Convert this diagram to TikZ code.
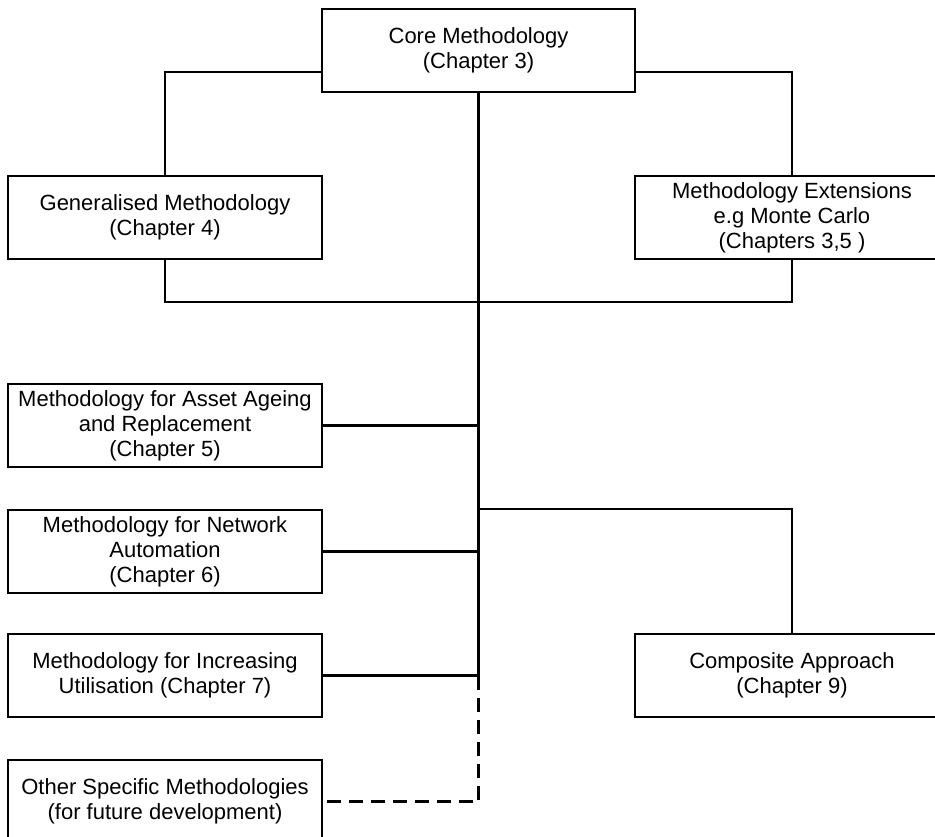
\documentclass[tikz,border=0pt]{standalone}
\usepackage{fontspec}
\setmainfont{Liberation Sans}
\usetikzlibrary{positioning, calc}

\begin{document}
\begin{tikzpicture}[x=1pt, y=-1pt,
    box/.style={draw, rectangle, line width=1.5pt, minimum width=314pt, minimum height=83pt, align=center, inner sep=2pt, font=\fontsize{22}{25}\selectfont},
    link/.style={line width=2.2pt},
    futurelink/.style={link, dash pattern=on 14pt off 8pt}]
    \useasboundingbox (0,0) rectangle (935,837);

    % Methodology boxes
    \node[box, minimum width=313pt] (core) at (478.5,50.5) {Core Methodology\\(Chapter 3)};
    \node[box] (general) at (165,217.5) {Generalised Methodology\\(Chapter 4)};
    \node[box] (extension) at (792,217.5) {Methodology Extensions\\e.g Monte Carlo\\(Chapters 3,5 )};

    \node[box] (ageing) at (165,425.5) {Methodology for Asset Ageing\\and Replacement\\(Chapter 5)};
    \node[box] (automation) at (165,551.5) {Methodology for Network\\Automation\\(Chapter 6)};
    \node[box] (utilisation) at (165,675.5) {Methodology for Increasing\\Utilisation (Chapter 7)};
    \node[box] (other) at (165,801.5) {Other Specific Methodologies\\(for future development)};
    \node[box] (composite) at (792,675.5) {Composite Approach\\(Chapter 9)};

    % Connections
    \coordinate (coreleft) at ($(core.south west)!0.25!(core.north west)$);
    \coordinate (coreright) at ($(core.south east)!0.25!(core.north east)$);
    \draw[link] (coreleft) -| (general.north);
    \draw[link] (coreright) -| (extension.north);
    \draw[link] (general.south) -- ++(0,42) -| (extension.south);

    \draw[link] (core.south) -- (core.south |- utilisation.east);
    \draw[link] (ageing.east) -- (ageing.east -| core.south);
    \draw[link] (automation.east) -- (automation.east -| core.south);
    \draw[link] (utilisation.east) -- (utilisation.east -| core.south);
    \draw[link] (automation.north -| core.south) -| (composite.north);

    % Future work
    \draw[futurelink] (utilisation.east -| core.south) -- (other.east -| core.south) -- (other.east);
\end{tikzpicture}
\end{document}
